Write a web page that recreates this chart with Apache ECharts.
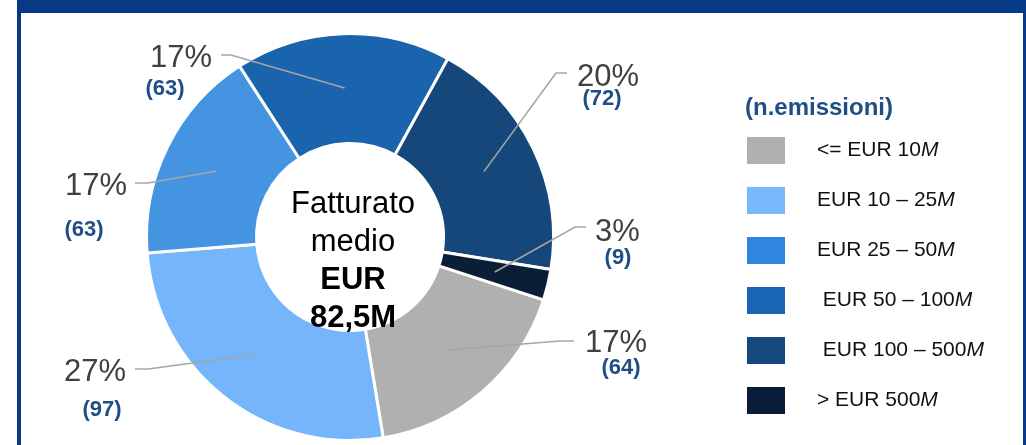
<!DOCTYPE html>
<html>
<head>
<meta charset="utf-8">
<title>Fatturato medio</title>
<script src="https://cdn.jsdelivr.net/npm/echarts@6/dist/echarts.min.js"></script>
<style>
  html, body { margin: 0; padding: 0; background: #fff; }
  #chart { width: 1026px; height: 445px; }
</style>
</head>
<body>
<div id="chart"></div>
<script>
// data
const categories = ['<= EUR 10M', 'EUR 10 – 25M', 'EUR 25 – 50M', 'EUR 50 – 100M', 'EUR 100 – 500M', '> EUR 500M'];
const emissions = [64, 97, 63, 63, 72, 9];
const shares = [17, 27, 17, 17, 20, 3];
const centerLines = ['Fatturato', 'medio', 'EUR', '82,5M'];
const legendTitle = '(n.emissioni)';

// styles
const sliceColors = ['#b0b0b0', '#74b5fb', '#4494e2', '#1a64ae', '#15477b', '#0a1f37'];
const legendColors = ['#b0b0b0', '#79b8fd', '#2e86e0', '#1a64b4', '#15497e', '#0a1e3c'];
const legendLead = ['', '', '', ' ', ' ', ''];
const FONT = '"Liberation Sans", Arial, sans-serif';
const NAVY = '#1f4e87';

// pie geometry
const CX = 350, CY = 237, R0 = 93.5, R1 = 203.5, START = -18;
const LINE_R = 149;

// label placement per slice: bend & end of leader line, percent text anchor, count centre
const pctSpots = [
  { bend: [560, 341], end: [574, 341], text: [585, 343], align: 'left' },
  { bend: [148, 369], end: [135, 369], text: [126, 372], align: 'right' },
  { bend: [148, 183], end: [135, 183], text: [127, 186], align: 'right' },
  { bend: [231, 55], end: [221, 55], text: [212, 58], align: 'right' },
  { bend: [556, 73], end: [567, 73], text: [577, 77], align: 'left' },
  { bend: [575, 227], end: [586, 227], text: [595, 232], align: 'left' }
];
const countSpots = [[621, 368], [102, 410], [84, 230], [165, 89], [602, 99], [618, 258]];

const total = emissions.reduce((a, b) => a + b, 0);

// point at the middle angle of slice i, on radius r
function midPoint(i, r) {
  let before = 0;
  for (let k = 0; k < i; k++) before += emissions[k];
  const deg = (90 - START) + 360 * (before + emissions[i] / 2) / total;
  const a = deg * Math.PI / 180;
  return [CX + r * Math.sin(a), CY - r * Math.cos(a)];
}

const chart = echarts.init(document.getElementById('chart'), null, { renderer: 'canvas' });

chart.setOption({
  backgroundColor: '#fff',
  animation: false,
  textStyle: { fontFamily: FONT },
  title: {
    text: legendTitle,
    left: 745,
    top: 95,
    padding: 0,
    textStyle: { fontFamily: FONT, fontSize: 24, fontWeight: 'bold', color: NAVY, lineHeight: 26 }
  },
  legend: {
    orient: 'vertical',
    left: 745,
    top: 135,
    padding: 0,
    icon: 'rect',
    itemWidth: 40,
    itemHeight: 29,
    itemGap: 19,
    selectedMode: false,
    data: categories.map((name, i) => ({ name: name, itemStyle: { color: legendColors[i] } })),
    formatter: function (name) {
      const i = categories.indexOf(name);
      return legendLead[i] + name.replace(/M$/, '{it|M}');
    },
    textStyle: {
      fontFamily: FONT,
      fontSize: 21,
      color: '#111',
      padding: [0, 0, 0, 26],
      rich: { it: { fontFamily: FONT, fontSize: 21, fontStyle: 'italic', color: '#111' } }
    }
  },
  graphic: [
    { type: 'rect', shape: { x: 17, y: 0, width: 1009, height: 13 }, style: { fill: '#063a87' }, silent: true },
    { type: 'rect', shape: { x: 17, y: 0, width: 4, height: 445 }, style: { fill: '#063a87' }, silent: true },
    { type: 'rect', shape: { x: 1023, y: 0, width: 3, height: 445 }, style: { fill: '#063a87' }, silent: true },
    {
      type: 'text',
      x: 353,
      y: 261,
      z: 10,
      silent: true,
      style: {
        text: centerLines.map((t, i) => (i < 2 ? '{a|' : '{b|') + t + '}').join('\n'),
        align: 'center',
        verticalAlign: 'middle',
        rich: {
          a: { fontFamily: FONT, fontSize: 31, color: '#000', lineHeight: 38, align: 'center' },
          b: { fontFamily: FONT, fontSize: 31, fontWeight: 'bold', color: '#000', lineHeight: 38, align: 'center' }
        }
      }
    }
  ],
  series: [
    {
      // visible ring, carries the issue counts
      name: 'emissioni',
      type: 'pie',
      center: [CX, CY],
      radius: [R0, R1],
      startAngle: START,
      clockwise: true,
      avoidLabelOverlap: false,
      emphasis: { disabled: true },
      itemStyle: { borderColor: '#fff', borderWidth: 3 },
      data: categories.map((name, i) => ({ name: name, value: emissions[i], itemStyle: { color: sliceColors[i] } })),
      label: {
        show: true,
        position: 'outside',
        formatter: p => '(' + p.value + ')',
        fontFamily: FONT,
        fontSize: 22,
        fontWeight: 'bold',
        color: NAVY
      },
      labelLine: { show: false },
      labelLayout: function (params) {
        const c = countSpots[params.dataIndex];
        return { x: c[0], y: c[1], align: 'center', verticalAlign: 'middle' };
      }
    },
    {
      // transparent overlay, carries the percentages and leader lines on top of the ring
      name: 'quota',
      type: 'pie',
      z: 5,
      center: [CX, CY],
      radius: [R0, R1],
      startAngle: START,
      clockwise: true,
      silent: true,
      avoidLabelOverlap: false,
      emphasis: { disabled: true },
      itemStyle: { color: 'rgba(0,0,0,0)', borderWidth: 0 },
      data: categories.map((name, i) => ({ name: name, value: emissions[i] })),
      label: {
        show: true,
        position: 'outside',
        formatter: p => shares[p.dataIndex] + '%',
        fontFamily: FONT,
        fontSize: 31,
        color: '#404040'
      },
      labelLine: {
        show: true,
        smooth: false,
        lineStyle: { color: '#a6a6a6', width: 1.6 }
      },
      labelLayout: function (params) {
        const s = pctSpots[params.dataIndex];
        return {
          x: s.text[0],
          y: s.text[1],
          align: s.align,
          verticalAlign: 'middle',
          labelLinePoints: [midPoint(params.dataIndex, LINE_R), s.bend, s.end]
        };
      }
    }
  ]
});

window.addEventListener('resize', () => chart.resize());
</script>
</body>
</html>
